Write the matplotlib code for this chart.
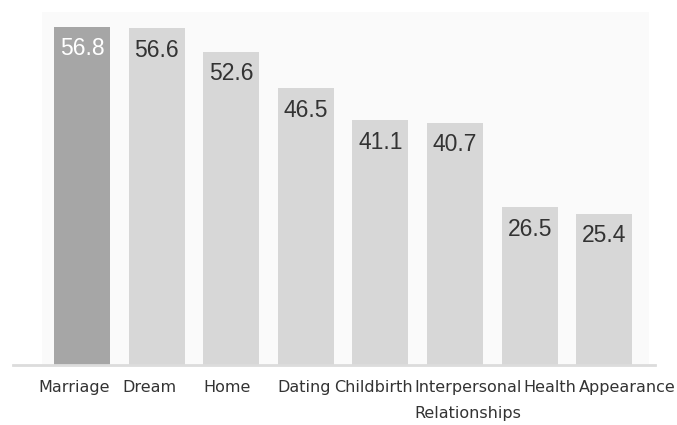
import matplotlib
matplotlib.use("Agg")
import matplotlib.pyplot as plt

categories = ["Marriage", "Dream", "Home", "Dating", "Childbirth",
              "Interpersonal\nRelationships", "Health", "Appearance"]
values = [56.8, 56.6, 52.6, 46.5, 41.1, 40.7, 26.5, 25.4]

# category labels sit slightly off the bar centres (they are laid out along a line)
label_shift = [-0.11, -0.09, -0.06, -0.02, -0.09, 0.17, 0.27, 0.31]

fig = plt.figure(figsize=(6.77, 4.25), dpi=100)
fig.patch.set_facecolor("white")

ax = fig.add_axes([13 / 677, 60 / 425, (655 - 13) / 677, (413 - 60) / 425])
ax.set_facecolor("white")

# faint panel behind the bars
ax.axvspan(-0.536, 7.60, color="#fafafa", lw=0, zorder=0)

x = list(range(len(values)))
colors = ["#a6a6a6"] + ["#d7d7d7"] * (len(values) - 1)
ax.bar(x, values, width=0.75, color=colors, zorder=2)

for i, v in enumerate(values):
    ax.text(i, v - 3.7, f"{v:.1f}", ha="center", va="center",
            fontsize=16.5, family="Liberation Sans",
            color="white" if i == 0 else "#333333", zorder=3)

for i, (c, s) in enumerate(zip(categories, label_shift)):
    ax.text(i + s, -2.6, c, ha="center", va="top", fontsize=11.5,
            family="DejaVu Sans", color="#333333", linespacing=1.85)

ax.set_xlim(-0.925, 7.68)
ax.set_ylim(0, 59.3)
for side in ["top", "right", "left"]:
    ax.spines[side].set_visible(False)
ax.spines["bottom"].set_color("#dcdcdc")
ax.spines["bottom"].set_linewidth(2)
ax.set_xticks([])
ax.set_yticks([])

fig.savefig("out.png", dpi=100)
